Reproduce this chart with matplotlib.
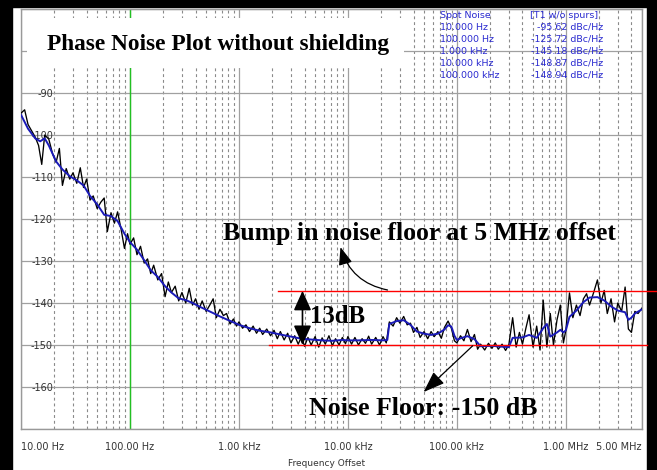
import numpy as np
import matplotlib
matplotlib.use('Agg')
import matplotlib.pyplot as plt
from matplotlib.patches import Rectangle
from matplotlib.ticker import LogLocator, NullFormatter

black_freq = [10, 10.8, 11.6, 12.5, 13.5, 14.5, 15.5, 16.5, 18, 19.5, 21, 22.5, 24, 26, 28, 30,
              32.5, 35, 37.5, 40, 43, 46, 50, 54, 58, 62, 67, 72, 77, 83, 89, 95,
              100, 108, 116, 125, 135, 145, 155, 165, 180, 195, 210, 225, 240, 260, 280, 300,
              325, 350, 375, 400, 430, 460, 500, 540, 580, 620, 670, 720, 770, 830, 890, 950,
              1e3, 1.08e3, 1.16e3, 1.25e3, 1.35e3, 1.45e3, 1.55e3, 1.65e3, 1.8e3, 1.95e3, 2.1e3,
              2.25e3, 2.4e3, 2.6e3, 2.8e3, 3e3, 3.25e3, 3.5e3, 3.75e3, 4e3, 4.3e3, 4.6e3, 5e3,
              5.4e3, 5.8e3, 6.2e3, 6.7e3, 7.2e3, 7.7e3, 8.3e3, 8.9e3, 9.5e3,
              1e4, 1.08e4, 1.16e4, 1.25e4, 1.35e4, 1.45e4, 1.55e4, 1.65e4, 1.8e4, 1.95e4, 2.1e4,
              2.25e4, 2.4e4, 2.6e4, 2.8e4, 3e4, 3.25e4, 3.5e4, 3.75e4, 4e4, 4.3e4, 4.6e4, 5e4,
              5.4e4, 5.8e4, 6.2e4, 6.7e4, 7.2e4, 7.7e4, 8.3e4, 8.9e4, 9.5e4,
              1e5, 1.08e5, 1.16e5, 1.25e5, 1.35e5, 1.45e5, 1.55e5, 1.65e5, 1.8e5, 1.95e5, 2.1e5,
              2.25e5, 2.4e5, 2.6e5, 2.8e5, 3e5, 3.25e5, 3.5e5, 3.75e5, 4e5, 4.3e5, 4.6e5, 5e5,
              5.4e5, 5.8e5, 6.2e5, 6.7e5, 7.2e5, 7.7e5, 8.3e5, 8.9e5, 9.5e5,
              1e6, 1.08e6, 1.16e6, 1.25e6, 1.35e6, 1.45e6, 1.55e6, 1.65e6, 1.8e6, 1.95e6, 2.1e6,
              2.25e6, 2.4e6, 2.6e6, 2.8e6, 3e6, 3.25e6, 3.5e6, 3.75e6, 4e6, 4.3e6, 4.6e6, 5e6]
black_db = [-94.8, -94.0, -97.5, -99.0, -100.5, -102.5, -107.0, -100.0, -101.0, -104.5, -106.5,
            -103.2, -112.0, -108.0, -110.5, -109.0, -111.5, -107.8, -112.5, -110.5, -115.5, -114.5,
            -117.5, -116.0, -115.0, -123.0, -118.5, -121.0, -118.3, -122.5, -127.0, -123.5,
            -126.0, -124.5, -128.5, -126.5, -130.5, -129.5, -133.0, -131.0, -134.5, -133.0, -138.5,
            -135.0, -137.5, -136.0, -139.5, -137.5, -140.0, -136.5, -140.5, -139.0, -141.5, -139.5,
            -142.0, -140.5, -139.0, -143.5, -141.5, -143.0, -142.5, -145.0, -143.8, -145.5,
            -144.5, -146.0, -145.2, -146.8, -145.5, -147.2, -146.0, -147.5, -146.2, -147.8, -146.5,
            -148.5, -146.8, -148.8, -147.2, -149.5, -147.8, -149.8, -148.0, -150.3, -148.2, -150.0,
            -148.0, -150.5, -148.3, -149.8, -147.8, -150.2, -148.5, -150.0, -148.2, -149.7,
            -148.0, -149.8, -148.2, -150.0, -148.5, -149.6, -147.9, -149.8, -148.2, -150.0, -148.0,
            -149.5, -144.5, -145.5, -143.5, -144.8, -143.2, -145.2, -144.8, -147.0, -145.8, -148.2,
            -146.8, -148.5, -146.8, -148.0, -146.8, -148.4, -145.8, -144.3, -146.0, -149.0,
            -149.5, -147.8, -149.0, -146.3, -149.2, -147.5, -151.0, -149.8, -151.2, -149.6, -150.8,
            -149.5, -151.0, -149.8, -151.3, -149.9, -143.5, -150.5, -147.0, -149.8, -146.0, -142.8,
            -150.5, -145.5, -151.2, -139.3, -150.5, -142.5, -150.0, -144.0, -140.5, -149.5,
            -146.5, -137.6, -143.5, -140.5, -143.0, -139.0, -137.8, -140.5, -137.5, -134.5, -140.0,
            -137.0, -142.5, -139.0, -144.5, -140.0, -142.0, -136.2, -146.2, -147.0, -142.0, -142.5,
            -141.2]

# averaged trace (blue)
blue_freq = [10, 11.6, 13.5, 15, 16.5, 18, 21, 24, 28, 32.5, 37.5, 43, 50, 58, 67, 77, 89,
             100, 116, 135, 155, 180, 210, 240, 280, 325, 375, 430, 500, 580, 670, 770, 890,
             1000, 1250, 1550, 1950, 2400, 3000, 3750, 4600, 5800, 7200, 8900,
             10000, 12500, 16500, 21000, 23000, 24000, 28000, 32500, 37500, 43000, 50000, 58000,
             67000, 77000, 83000, 89000, 95000,
             100000, 108000, 125000, 145000, 165000, 210000, 260000, 300000, 325000, 400000,
             460000, 540000, 620000, 670000, 720000, 830000, 890000, 950000,
             1000000, 1080000, 1250000, 1450000, 1650000, 1950000, 2250000, 2600000, 3000000,
             3500000, 3750000, 4000000, 4300000, 5000000]
blue_db = [-95.2, -98.5, -100.8, -101.5, -100.8, -102.5, -106.3, -108.2, -109.8, -110.8, -112.0,
           -114.5, -116.5, -119.0, -119.3, -120.5, -123.5,
           -125.5, -127.3, -129.8, -132.2, -133.8, -136.0, -137.5, -138.9, -139.3, -140.0, -140.8,
           -141.6, -142.4, -143.2, -143.9, -144.6,
           -145.2, -146.0, -146.6, -147.0, -147.5, -148.0, -148.5, -148.7, -148.9, -149.0, -148.8,
           -148.9, -148.9, -148.8, -148.9, -148.8, -145.0, -144.3, -144.1, -145.2, -146.8, -147.3,
           -147.6, -147.3, -146.3, -145.3, -145.6, -147.8,
           -148.8, -148.4, -147.9, -148.6, -150.3, -150.2, -150.4, -150.5, -148.3, -148.2, -147.6,
           -148.3, -146.0, -145.0, -148.0, -147.0, -146.4, -147.0,
           -146.5, -143.3, -141.8, -139.8, -138.7, -138.6, -139.4, -140.8, -141.8, -142.2, -144.0,
           -143.5, -142.5, -141.5]

spot_labels = ['10.000 Hz', '100.000 Hz', '1.000 kHz', '10.000 kHz', '100.000 kHz']
spot_values = [-95.62, -125.72, -145.18, -148.87, -148.94]

xtick_pos = [10, 100, 1e3, 1e4, 1e5, 1e6, 5e6]
xtick_labels = ['10.00 Hz', '100.00 Hz', '1.00 kHz', '10.00 kHz', '100.00 kHz', '1.00 MHz', '5.00 MHz']
ytick_pos = [-170, -160, -150, -140, -130, -120, -110, -100, -90, -80, -70]
ytick_labels = ['', '-160', '-150', '-140', '-130', '-120', '-110', '-100', '-90', '', '']

marker_freq = 100
noise_floor_db = -150
bump_db = -137.1

W, H = 657, 470
fig = plt.figure(figsize=(W / 100, H / 100), dpi=100)
ax = fig.add_axes([21 / W, 1 - 429 / H, 621 / W, 420 / H])


def fx(px):
    return px / W


def fy(py):
    return 1 - py / H


# black frame around the screenshot
for r in [(0, 0, 12, H), (0, 0, W, 7), (647, 0, 10, H)]:
    fig.add_artist(Rectangle((fx(r[0]), fy(r[1] + r[3])), r[2] / W, r[3] / H,
                             transform=fig.transFigure, color='black', zorder=-1))

ax.set_xscale('log')
ax.set_xlim(10, 5e6)
ax.set_ylim(-170, -70)
ax.set_xticks(xtick_pos)
ax.set_xticklabels(xtick_labels)
ax.xaxis.set_minor_locator(LogLocator(base=10, subs=np.arange(2, 10)))
ax.xaxis.set_minor_formatter(NullFormatter())
ax.set_yticks(ytick_pos)
ax.set_yticklabels(ytick_labels)
ax.grid(which='major', color='#a0a0a0', lw=0.9, ls='-')
ax.grid(which='minor', axis='x', color='#8a8a8a', lw=0.8, ls=(0, (2.6, 2.6)))
ax.tick_params(which='both', length=0)
ax.tick_params(axis='y', pad=-23, labelsize=7, labelcolor='#333333')
ax.tick_params(axis='x', pad=9, labelsize=7, labelcolor='#333333')
for lab in ax.get_yticklabels() + ax.get_xticklabels():
    lab.set_fontfamily('DejaVu Sans')
xl = ax.get_xticklabels()
xl[0].set_ha('left')
xl[-1].set_ha('right')
for s in ax.spines.values():
    s.set_color('#999999')
    s.set_linewidth(1)

ax.axvline(marker_freq, color='#22c022', lw=1, zorder=2)
ax.plot(black_freq, black_db, color='black', lw=0.95, zorder=3)
ax.plot(blue_freq, blue_db, color='#1a1ab8', lw=1.4, zorder=3.5)

# title box
ax.add_patch(Rectangle((fx(27), fy(68)), 377 / W, 50 / H, transform=fig.transFigure,
                       facecolor='white', edgecolor='none', zorder=5))
serif = dict(family='Liberation Serif', weight='bold', color='black', zorder=6)
ax.text(fx(47), fy(50), 'Phase Noise Plot without shielding', transform=fig.transFigure,
        size=16.8, va='baseline', ha='left', **serif)
ax.text(fx(223), fy(240), 'Bump in noise floor at 5 MHz offset', transform=fig.transFigure,
        size=18.5, va='baseline', ha='left', **serif)
ax.text(fx(310), fy(323), '13dB', transform=fig.transFigure,
        size=17.8, va='baseline', ha='left', **serif)
ax.text(fx(309), fy(415), 'Noise Floor: -150 dB', transform=fig.transFigure,
        size=18.6, va='baseline', ha='left', **serif)

# red level lines and arrows
ax.plot([2300, 7.0e6], [bump_db, bump_db], color='red', lw=1, clip_on=False, zorder=4)
ax.plot([1900, 5.55e6], [noise_floor_db, noise_floor_db], color='red', lw=1, clip_on=False, zorder=4)
ax.annotate('', xy=(3830, noise_floor_db), xytext=(3830, bump_db),
            arrowprops=dict(arrowstyle='<|-|>,head_length=1.0,head_width=0.45', mutation_scale=12,
                            color='black', lw=1.2, shrinkA=0, shrinkB=0), zorder=5)
ax.annotate('', xy=(8550, -126.7), xytext=(23100, -136.9),
            arrowprops=dict(arrowstyle='-|>,head_length=0.9,head_width=0.35', mutation_scale=12,
                            connectionstyle='arc3,rad=-0.3', color='black', lw=0.9,
                            shrinkA=0, shrinkB=0), zorder=5)
ax.annotate('', xy=(49500, -161.2), xytext=(139600, -150.2),
            arrowprops=dict(arrowstyle='-|>,head_length=1.1,head_width=0.4', mutation_scale=12,
                            color='black', lw=0.9, shrinkA=0, shrinkB=0), zorder=5)

# spot noise table
blue_txt = dict(family='DejaVu Sans', size=6.8, color='#2a2ad0', va='center', zorder=6)
fig.text(fx(440), fy(15), 'Spot Noise', ha='left', **blue_txt)
fig.text(fx(530), fy(15), '[T1 w/o spurs]', ha='left', **blue_txt)
for i, (lab, val) in enumerate(zip(spot_labels, spot_values)):
    yy = 27 + 12 * i
    fig.text(fx(440), fy(yy), lab, ha='left', **blue_txt)
    fig.text(fx(603), fy(yy), f'{val:.2f} dBc/Hz', ha='right', **blue_txt)

fig.text(fx(327), fy(463), 'Frequency Offset', ha='center', va='center',
         family='DejaVu Sans', size=6.5, color='#333333')

fig.savefig('out.png', dpi=100)
